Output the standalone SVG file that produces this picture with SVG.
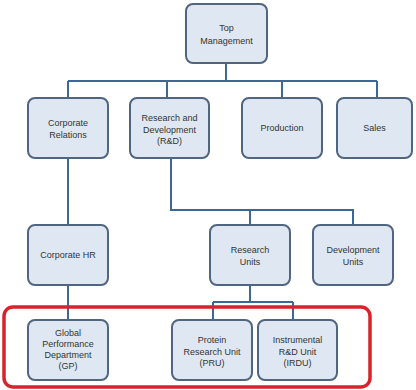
<svg xmlns="http://www.w3.org/2000/svg" width="416" height="390" viewBox="0 0 416 390">
<style>
.box{fill:#dfe8f2;stroke:#4f6580;stroke-width:2}
.t{font-family:"Liberation Sans",Arial,sans-serif;font-size:9px;fill:#333;text-anchor:middle}
.c{fill:none;stroke:#3d6794;stroke-width:2}
</style>
<rect width="416" height="390" fill="#fff"/>
<g id="connectors">
<path class="c" d="M226 63V81M68 81H377M68 81V98M167 81V98M282 81V98M377 81V98"/>
<path class="c" d="M68 158V225M68 285V320"/>
<path class="c" d="M171 158V210H353V225M250 210V225"/>
<path class="c" d="M250 285V302M213 302H293M213 302V320M293 302V320"/>
</g>
<g id="top"><rect class="box" x="186" y="4" width="81" height="59" rx="7"/><text class="t" x="226.5" y="31">Top</text><text class="t" x="226.5" y="44">Management</text></g>
<g id="corprel"><rect class="box" x="28" y="98" width="80" height="60" rx="7"/><text class="t" x="68" y="126">Corporate</text><text class="t" x="68" y="137.5">Relations</text></g>
<g id="rnd"><rect class="box" x="130" y="98" width="79" height="60" rx="7"/><text class="t" x="169.5" y="121">Research and</text><text class="t" x="169.5" y="132.5">Development</text><text class="t" x="169.5" y="144">(R&amp;D)</text></g>
<g id="production"><rect class="box" x="242" y="98" width="80" height="60" rx="7"/><text class="t" x="282" y="131">Production</text></g>
<g id="sales"><rect class="box" x="337" y="98" width="75" height="60" rx="7"/><text class="t" x="374.5" y="131">Sales</text></g>
<g id="corphr"><rect class="box" x="28" y="225" width="80" height="60" rx="7"/><text class="t" x="68" y="258">Corporate HR</text></g>
<g id="resunits"><rect class="box" x="210" y="225" width="80" height="60" rx="7"/><text class="t" x="250" y="253">Research</text><text class="t" x="250" y="264.5">Units</text></g>
<g id="devunits"><rect class="box" x="313" y="225" width="80" height="60" rx="7"/><text class="t" x="353" y="253">Development</text><text class="t" x="353" y="264.5">Units</text></g>
<g id="highlight"><rect x="4" y="307" width="366" height="80" rx="9" fill="none" stroke="#d8232a" stroke-width="3.5"/></g>
<g id="gp"><rect class="box" x="28" y="320" width="80" height="60" rx="7"/><text class="t" x="68" y="336">Global</text><text class="t" x="68" y="347">Performance</text><text class="t" x="68" y="358">Department</text><text class="t" x="68" y="369">(GP)</text></g>
<g id="pru"><rect class="box" x="172" y="320" width="80" height="60" rx="7"/><text class="t" x="212" y="343">Protein</text><text class="t" x="212" y="354.5">Research Unit</text><text class="t" x="212" y="366">(PRU)</text></g>
<g id="irdu"><rect class="box" x="258" y="320" width="79" height="60" rx="7"/><text class="t" x="297.5" y="343">Instrumental</text><text class="t" x="297.5" y="354.5">R&amp;D Unit</text><text class="t" x="297.5" y="366">(IRDU)</text></g>
</svg>
